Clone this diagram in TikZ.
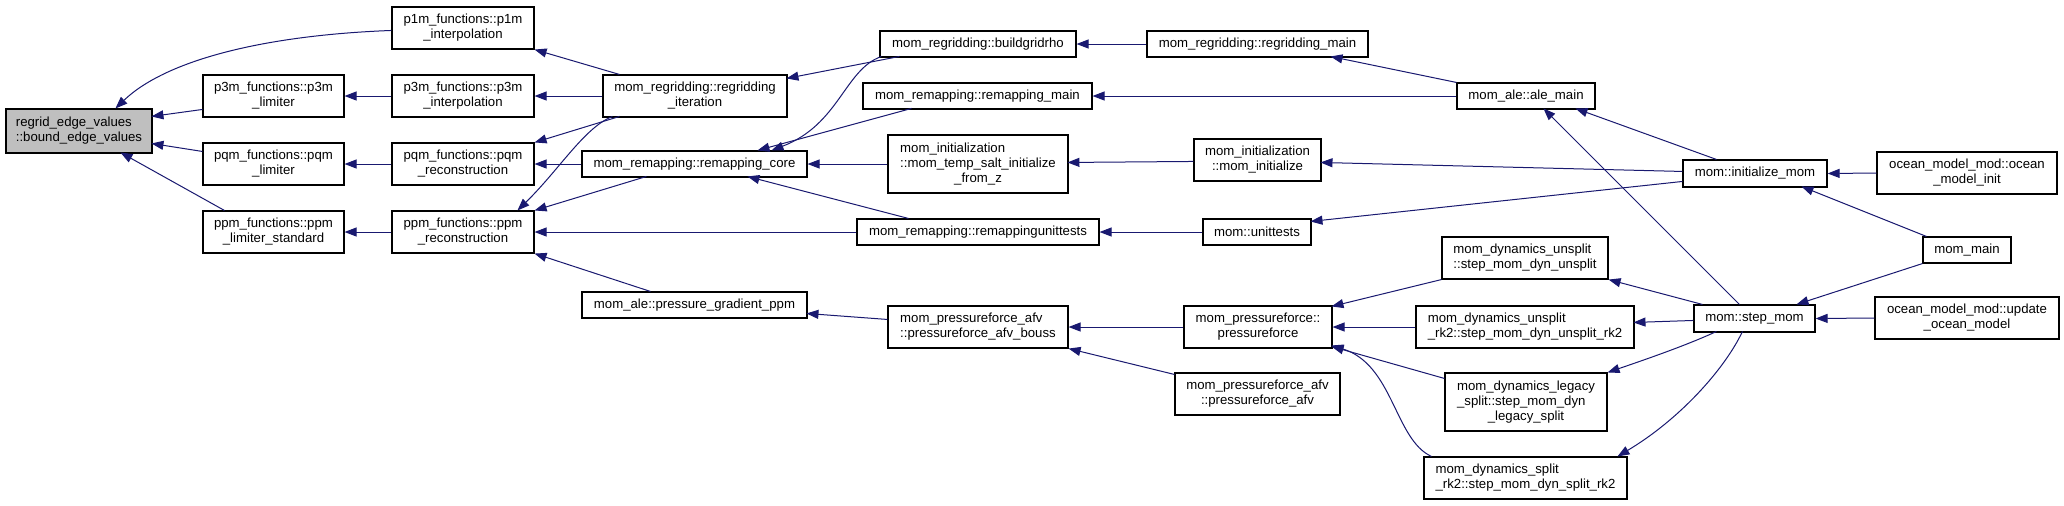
\documentclass[tikz,border=0pt]{standalone}
\usepackage{fontspec}
\setmainfont{Liberation Sans}
\usetikzlibrary{arrows.meta,calc}
\definecolor{edgecol}{RGB}{25,25,112}
\definecolor{rootfill}{RGB}{191,191,191}
\newcommand\tl[1]{\begin{tabular}{@{}l@{}}#1\end{tabular}}
\newcommand\lc[1]{\multicolumn{1}{@{}c@{}}{#1}}
\begin{document}
\begin{tikzpicture}[x=0.5pt,y=-0.5pt,
  box/.style={draw=black,line width=0.55pt,fill=white,inner sep=0pt,
    font=\fontsize{6.6}{7.5}\selectfont},
  bw/.style={minimum width=#1*0.5pt},
  bh/.style={minimum height=#1*0.5pt},
  edge/.style={draw=edgecol,line width=0.5pt,-{Triangle[length=6pt,width=4.5pt]}}]
\useasboundingbox[fill=white] (0,0) rectangle (2064,505);

% ---- nodes ----
\node[box,bw=146,bh=44,fill=rootfill] (bev) at (79,131) {\tl{regrid\_edge\_values\\\lc{::bound\_edge\_values}}};
\node[box,bw=141,bh=42] (p3ml) at (273.5,96) {\tl{p3m\_functions::p3m\\\lc{\_limiter}}};
\node[box,bw=141,bh=42] (pqml) at (273.5,164) {\tl{pqm\_functions::pqm\\\lc{\_limiter}}};
\node[box,bw=141,bh=42] (ppml) at (273.5,232) {\tl{ppm\_functions::ppm\\\lc{\_limiter\_standard}}};
\node[box,bw=142,bh=42] (p1mi) at (463,28) {\tl{p1m\_functions::p1m\\\lc{\_interpolation}}};
\node[box,bw=142,bh=42] (p3mi) at (463,96) {\tl{p3m\_functions::p3m\\\lc{\_interpolation}}};
\node[box,bw=142,bh=42] (pqmr) at (463,164) {\tl{pqm\_functions::pqm\\\lc{\_reconstruction}}};
\node[box,bw=142,bh=42] (ppmr) at (463,232) {\tl{ppm\_functions::ppm\\\lc{\_reconstruction}}};
\node[box,bw=184,bh=42] (ri) at (695,96) {\tl{mom\_regridding::regridding\\\lc{\_iteration}}};
\node[box,bw=225,bh=26] (rc) at (694.5,164) {mom\_remapping::remapping\_core};
\node[box,bw=225,bh=26] (pgp) at (694.5,305) {mom\_ale::pressure\_gradient\_ppm};
\node[box,bw=196,bh=26] (bgr) at (978,44) {mom\_regridding::buildgridrho};
\node[box,bw=229,bh=26] (rmain) at (977.5,96) {mom\_remapping::remapping\_main};
\node[box,bw=180,bh=58] (tsz) at (978,164) {\tl{mom\_initialization\\::mom\_temp\_salt\_initialize\\\lc{\_from\_z}}};
\node[box,bw=242,bh=26] (rut) at (978,232) {mom\_remapping::remappingunittests};
\node[box,bw=180,bh=42] (bouss) at (978,327) {\tl{mom\_pressureforce\_afv\\\lc{::pressureforce\_afv\_bouss}}};
\node[box,bw=221,bh=26] (rgm) at (1257.5,44) {mom\_regridding::regridding\_main};
\node[box,bw=138,bh=26] (ale) at (1526,96) {mom\_ale::ale\_main};
\node[box,bw=127,bh=42] (mini) at (1257.5,160) {\tl{mom\_initialization\\\lc{::mom\_initialize}}};
\node[box,bw=108,bh=26] (mut) at (1257,232) {mom::unittests};
\node[box,bw=148,bh=42] (pf) at (1258,327) {\tl{mom\_pressureforce::\\\lc{pressureforce}}};
\node[box,bw=165,bh=42] (pfa) at (1257.5,394) {\tl{mom\_pressureforce\_afv\\\lc{::pressureforce\_afv}}};
\node[box,bw=166,bh=42] (dun) at (1525,258) {\tl{mom\_dynamics\_unsplit\\\lc{::step\_mom\_dyn\_unsplit}}};
\node[box,bw=218,bh=42] (urk2) at (1525,327) {\tl{mom\_dynamics\_unsplit\\\lc{\_rk2::step\_mom\_dyn\_unsplit\_rk2}}};
\node[box,bw=162,bh=58] (leg) at (1526,402) {\tl{mom\_dynamics\_legacy\\\_split::step\_mom\_dyn\\\lc{\_legacy\_split}}};
\node[box,bw=203,bh=42] (srk2) at (1525.5,478) {\tl{mom\_dynamics\_split\\\lc{\_rk2::step\_mom\_dyn\_split\_rk2}}};
\node[box,bw=144,bh=27] (imom) at (1755,173.5) {mom::initialize\_mom};
\node[box,bw=121,bh=27] (step) at (1754.5,318.5) {mom::step\_mom};
\node[box,bw=180,bh=42] (omi) at (1967,173) {\tl{ocean\_model\_mod::ocean\\\lc{\_model\_init}}};
\node[box,bw=88,bh=26] (mmain) at (1967,250) {mom\_main};
\node[box,bw=184,bh=42] (uom) at (1967,318) {\tl{ocean\_model\_mod::update\\\lc{\_ocean\_model}}};

% ---- edges (caller -> callee) ----
\draw[edge] ($(p1mi.north west)+(0,24)$) .. controls +(-132,5) and +(49,-47) .. ($(bev.north west)+(110,0)$);
\draw[edge] ($(p3ml.north west)+(0,35)$) -- ($(bev.north west)+(146,8)$);
\draw[edge] ($(pqml.north west)+(0,9)$) -- ($(bev.north west)+(146,35)$);
\draw[edge] ($(ppml.north west)+(22,0)$) -- ($(bev.north west)+(115,44)$);
\draw[edge] (p3mi.west) -- (p3ml.east);
\draw[edge] (pqmr.west) -- (pqml.east);
\draw[edge] (ppmr.west) -- (ppml.east);
\draw[edge] ($(ri.north west)+(17,0)$) -- (p1mi.south east);
\draw[edge] (ri.west) -- (p3mi.east);
\draw[edge] ($(ri.north west)+(17,42)$) -- (pqmr.north east);
\draw[edge] ($(ri.north west)+(10,42)$) .. controls +(-28,11) and +(42,-41) .. ($(ppmr.north west)+(126,0)$);
\draw[edge] (rc.west) -- (pqmr.east);
\draw[edge] ($(rc.north west)+(65,26)$) -- (ppmr.north east);
\draw[edge] ($(pgp.north west)+(69,0)$) -- (ppmr.south east);
\draw[edge] (rut.west) -- (ppmr.east);
\draw[edge] ($(bgr.north west)+(20,26)$) -- ($(ri.north west)+(184,4)$);
\draw[edge] ($(bgr.north west)+(2,26)$) .. controls +(-37,13) and +(68,-26) .. ($(rc.north west)+(190,0)$);
\draw[edge] ($(rmain.north west)+(49,26)$) -- ($(rc.north west)+(176,0)$);
\draw[edge] (tsz.west) -- (rc.east);
\draw[edge] ($(rut.north west)+(52,0)$) -- ($(rc.north west)+(166,26)$);
\draw[edge] (rgm.west) -- (bgr.east);
\draw[edge] (ale.north west) -- ($(rgm.north west)+(184,26)$);
\draw[edge] (ale.west) -- (rmain.east);
\draw[edge] ($(mini.north west)+(0,23)$) -- ($(tsz.north west)+(180,28)$);
\draw[edge] (mut.west) -- (rut.east);
\draw[edge] ($(imom.north west)+(34,0)$) -- ($(ale.north west)+(119,26)$);
\draw[edge] ($(imom.north west)+(0,12)$) -- ($(mini.north west)+(127,24)$);
\draw[edge] ($(imom.north west)+(0,22)$) -- ($(mut.north west)+(108,3)$);
\draw[edge] ($(step.north west)+(46,0)$) -- ($(ale.north west)+(87,26)$);
\draw[edge] ($(step.north west)+(9,0)$) -- (dun.south east);
\draw[edge] ($(step.north west)+(0,16)$) -- ($(urk2.north west)+(218,17)$);
\draw[edge] ($(step.north west)+(23,27)$) .. controls +(-30,14) and +(35,-12) .. (leg.north east);
\draw[edge] ($(step.north west)+(49,27)$) .. controls +(-18,38) and +(62,-37) .. ($(srk2.north west)+(194,0)$);
\draw[edge] (omi.west) -- (imom.east);
\draw[edge] ($(mmain.north west)+(4,0)$) -- ($(imom.north west)+(119,27)$);
\draw[edge] (mmain.south west) -- ($(step.north west)+(103,0)$);
\draw[edge] (uom.west) -- (step.east);
\draw[edge] (dun.south west) -- ($(pf.north west)+(148,1)$);
\draw[edge] (urk2.west) -- (pf.east);
\draw[edge] ($(leg.north west)+(0,6)$) -- ($(pf.north west)+(148,41)$);
\draw[edge] ($(srk2.north west)+(8,0)$) .. controls +(-37,-17) and +(62,19) .. ($(pf.north west)+(148,40)$);
\draw[edge] (pf.west) -- (bouss.east);
\draw[edge] ($(pfa.north west)+(0,2)$) -- (bouss.south east);
\draw[edge] ($(bouss.north west)+(0,14)$) -- ($(pgp.north west)+(225,22)$);
\end{tikzpicture}
\end{document}
